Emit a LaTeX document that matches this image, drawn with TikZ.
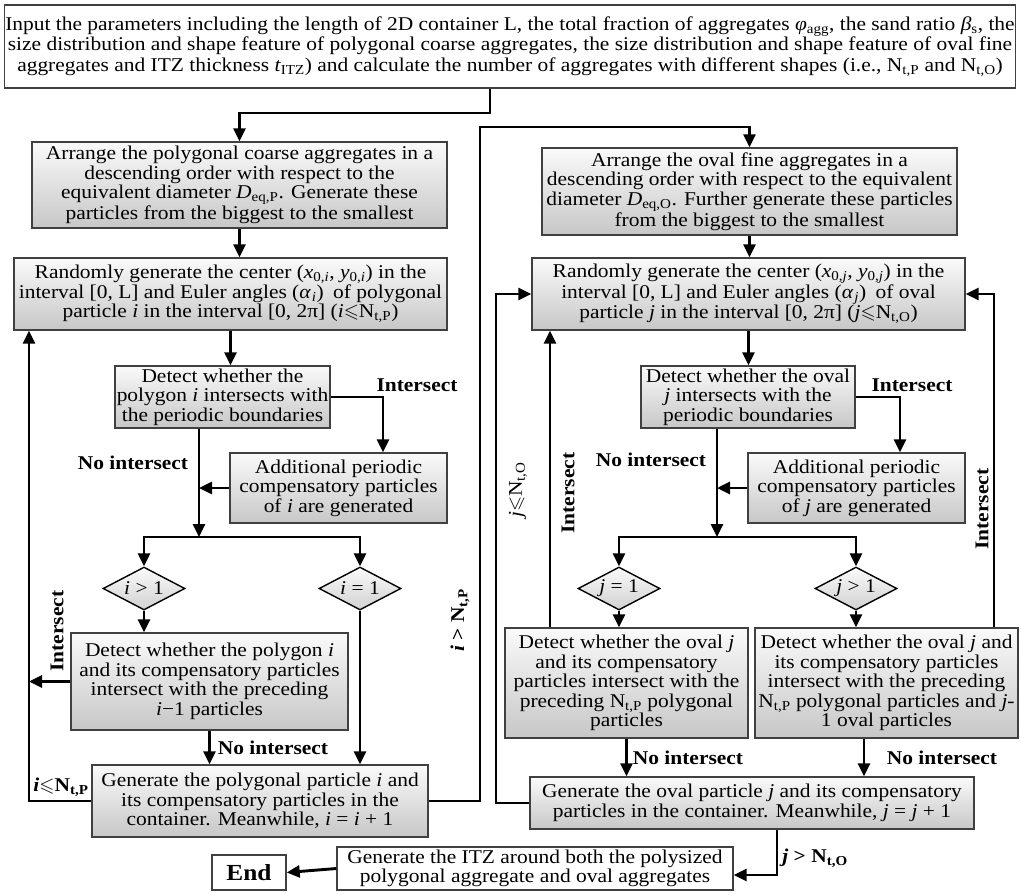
\documentclass[tikz,border=0pt]{standalone}
\usepackage{amssymb}
\usepackage{fontspec}
\setmainfont{Liberation Serif}[FakeStretch=1.1]
\usetikzlibrary{positioning,shapes.geometric,arrows.meta}
\newcommand{\fs}{\fontsize{19.5}{19.5}\selectfont}
\newcommand{\leqs}{$\leqslant$}
\tikzset{proc node/.style={draw=black!75,line width=1.4pt,top color=black!2,bottom color=black!22,align=center,inner sep=1pt,font=\fs},
         white node/.style={draw=black!75,line width=1.4pt,fill=white,align=center,inner sep=1pt,font=\fs},
         cond node/.style={diamond,draw=black,line width=1.4pt,top color=black!2,bottom color=black!18,inner sep=0pt,aspect=2,minimum width=82,minimum height=43,font=\fs},
         flow/.style={line width=2.9pt,-{Triangle[length=13pt,width=12pt]}},
         tag/.style={font=\fs\bfseries},
            }
\begin{document}
\begin{tikzpicture}[x=1pt,y=-1pt]
\useasboundingbox (0,0) rectangle (1021,895);

\node[white node,minimum width=1010,minimum height=83,font=\fontsize{19.5}{20.5}\selectfont] (in) at (510,46.5)
  {Input the parameters including the length of 2D container L, the total fraction of aggregates \textit{φ}\textsubscript{agg}, the sand ratio \textit{β}\textsubscript{s}, the\\
   size distribution and shape feature of polygonal coarse aggregates, the size distribution and shape feature of oval fine\\
   aggregates and ITZ thickness \textit{t}\textsubscript{ITZ}) and calculate the number of aggregates with different shapes (i.e., N\textsubscript{t,P} and N\textsubscript{t,O})};

% polygonal branch
\node[proc node,minimum width=415,minimum height=86] (p1) at (239.5,185)
  {Arrange the polygonal coarse aggregates in a\\ descending order with respect to the\\ equivalent diameter \textit{D}\textsubscript{eq,P}. Generate these\\ particles from the biggest to the smallest};
\node[proc node,minimum width=433,minimum height=72] (p2) at (230.5,294)
  {Randomly generate the center (\textit{x}\textsubscript{0,\textit{i}}, \textit{y}\textsubscript{0,\textit{i}}) in the\\ interval [0, L] and Euler angles (\textit{α}\kern1pt\textsubscript{\textit{i}})\hspace{4pt} of polygonal\\ particle \textit{i} in the interval [0, 2π] (\textit{i}\leqs N\textsubscript{t,P})};
\node[proc node,minimum width=215,minimum height=62] (p3) at (222.5,397)
  {Detect whether the\\ polygon \textit{i} intersects with\\ the periodic boundaries};
\node[proc node,minimum width=217,minimum height=70] (p4) at (338.5,488)
  {Additional periodic\\ compensatory particles\\ of \textit{i} are generated};
\node[cond node] (d1) at (144,588.5) {\textit{i} > 1};
\node[cond node] (d2) at (360,588.5) {\textit{i} = 1};
\node[proc node,minimum width=277,minimum height=97] (p5) at (209.5,681.5)
  {Detect whether the polygon \textit{i}\\ and its compensatory particles\\ intersect with the preceding\\ \textit{i}−1 particles};
\node[proc node,minimum width=336,minimum height=72] (p6) at (260,801)
  {Generate the polygonal particle \textit{i} and\\ its compensatory particles in the\\ container. Meanwhile, \textit{i} = \textit{i} + 1};

% oval branch
\node[proc node,minimum width=415,minimum height=87] (o1) at (749.5,191.5)
  {Arrange the oval fine aggregates in a\\ descending order with respect to the equivalent\\ diameter \textit{D}\textsubscript{eq,O}. Further generate these particles\\ from the biggest to the smallest};
\node[proc node,minimum width=433,minimum height=72] (o2) at (748.5,294)
  {Randomly generate the center (\textit{x}\textsubscript{0,\textit{j}}, \textit{y}\textsubscript{0,\textit{j}}) in the\\ interval [0, L] and Euler angles (\textit{α}\kern1pt\textsubscript{\textit{j}})\hspace{4pt} of oval\\ particle \textit{j} in the interval [0, 2π] (\textit{j}\leqs N\textsubscript{t,O})};
\node[proc node,minimum width=214,minimum height=62] (o3) at (748,397)
  {Detect whether the oval\\ \textit{j} intersects with the\\ periodic boundaries};
\node[proc node,minimum width=217,minimum height=70] (o4) at (856.5,488)
  {Additional periodic\\ compensatory particles\\ of \textit{j} are generated};
\node[cond node] (d3) at (619,588.5) {\textit{j} = 1};
\node[cond node] (d4) at (856,588.5) {\textit{j} > 1};
\node[proc node,minimum width=243,minimum height=110] (o5) at (626.5,683)
  {Detect whether the oval \textit{j}\\ and its compensatory\\ particles intersect with the\\ preceding N\textsubscript{t,P} polygonal\\ particles};
\node[proc node,minimum width=263,minimum height=110] (o7) at (886.5,683)
  {Detect whether the oval \textit{j} and\\ its compensatory particles\\ intersect with the preceding\\ N\textsubscript{t,P} polygonal particles and \textit{j}-\\ 1 oval particles};
\node[proc node,minimum width=444,minimum height=52] (o6) at (752,803)
  {Generate the oval particle \textit{j} and its compensatory\\ particles in the container. Meanwhile, \textit{j} = \textit{j} + 1};

% final steps
\node[white node,minimum width=396,minimum height=43] (itz) at (535,868.5)
  {Generate the ITZ around both the polysized\\ polygonal aggregate and oval aggregates};
\node[white node,minimum width=74,minimum height=35,font=\fontsize{23}{25}\selectfont\bfseries] (end) at (249,872.5) {End};

% routing points
\coordinate (t1) at (490,113);
\coordinate (r1) at (480,127);
\coordinate (l1) at (29,0);
\coordinate (j1) at (199,537);
\coordinate (j2) at (717,537);
\coordinate (c1) at (383,0);
\coordinate (c2) at (900,0);
\coordinate (u1) at (550,0);
\coordinate (u2) at (994,0);
\coordinate (v1) at (496,294);
\coordinate (w1) at (777,875);
\coordinate (k1) at (864,0);

\draw[flow] (in.south -| t1) -- (t1) -| (p1.north);
\draw[flow] (p1.south) -- (p1.south |- p2.north);
\draw[flow] (p2.south) -- (p2.south |- p3.north);
\draw[flow] (p3.east) -| (p4.north -| c1);
\draw[flow] (p3.south -| j1) -- (j1);
\draw[flow] (p4.west) -- (p4.west -| j1);
\draw[flow] (j1) -| (d1.north);
\draw[flow] (j1) -| (d2.north);
\draw[flow] (d1.south) -- (d1.south |- p5.north);
\draw[flow] (d2.south) -- (d2.south |- p6.north);
\draw[flow] (p5.west) -- (p5.west -| l1);
\draw[flow] (p5.south) -- (p5.south |- p6.north);
\draw[flow] (p6.west) -| (p2.south -| l1);
\draw[flow] (p6.east) -| (r1) -| (o1.north);

\draw[flow] (o1.south) -- (o1.south |- o2.north);
\draw[flow] (o2.south) -- (o2.south |- o3.north);
\draw[flow] (o3.east) -| (o4.north -| c2);
\draw[flow] (o3.south -| j2) -- (j2);
\draw[flow] (o4.west) -- (o4.west -| j2);
\draw[flow] (j2) -| (d3.north);
\draw[flow] (j2) -| (d4.north);
\draw[flow] (d3.south) -- (d3.south |- o5.north);
\draw[flow] (d4.south) -- (d4.south |- o7.north);
\draw[flow] (o5.north -| u1) -- (o2.south -| u1);
\draw[flow] (o7.north -| u2) |- (o2.east);
\draw[flow] (o5.south) -- (o5.south |- o6.north);
\draw[flow] (o7.south -| k1) -- (o6.north -| k1);
\draw[flow] (o6.west) -| (v1) -- (o2.west);
\draw[flow] (o6.south -| w1) -- (w1) -- (itz.east |- w1);
\draw[flow] (itz.west) -- (end.east);

% labels
\node[tag] (n1) at (417,385) {Intersect};
\node[tag] (n2) at (912,385) {Intersect};
\node[tag] (n3) at (133,463) {No intersect};
\node[tag] (n4) at (651,460) {No intersect};
\node[tag,rotate=90] (n5) at (57,631) {Intersect};
\node[tag,rotate=90] (n6) at (568,493) {Intersect};
\node[tag,rotate=90] (n7) at (982,509) {Intersect};
\node[tag,rotate=90] (n8) at (460,620) {\textit{i} > N\textsubscript{t,P}};
\node[rotate=90,font=\fs] (n9) at (518,490) {\textit{j}\leqs N\textsubscript{t,O}};
\node[tag,inner sep=0pt] (n10) at (61,787) {\textit{i}\leqs N\textsubscript{t,P}};
\node[tag] (n11) at (273,748) {No intersect};
\node[tag] (n12) at (688,758) {No intersect};
\node[tag] (n13) at (942,758) {No intersect};
\node[tag] (n14) at (815,858) {\textit{j} > N\textsubscript{t,O}};
\end{tikzpicture}
\end{document}
